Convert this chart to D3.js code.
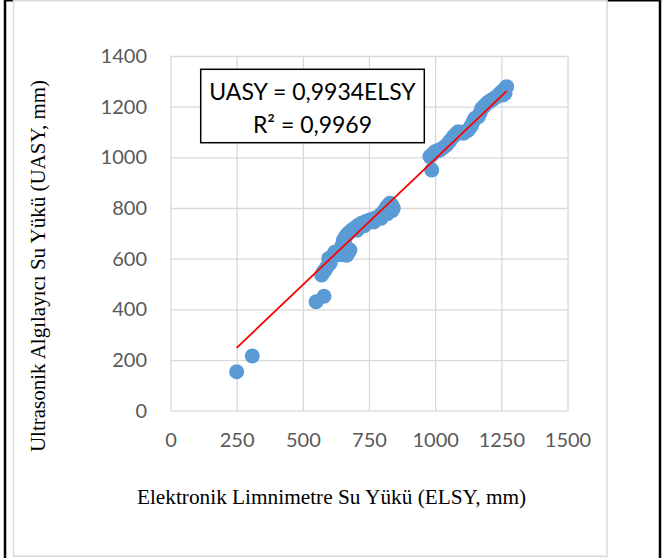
<!DOCTYPE html>
<html>
<head>
<meta charset="utf-8">
<script src="https://cdn.jsdelivr.net/npm/d3@7"></script>
<style>
  html, body { margin: 0; padding: 0; background: #fff; }
  svg { display: block; }
</style>
</head>
<body>
<svg id="chart" width="664" height="558"></svg>
<script>
// Elektronik limnimetre (ELSY) vs ultrasonik algılayıcı (UASY) su yükü ölçümleri, mm
const elsy = [
  250, 309, 550, 580,
  571, 578, 584, 590, 596, 603, 598, 606, 615, 628, 640, 652, 666, 672, 678,
  620, 640, 662, 660, 648, 655, 653, 660, 666, 675, 685, 697, 710, 722, 735,
  748, 760, 772, 785, 795, 804, 812, 817, 823, 829, 836, 842, 838, 826,
  705, 732, 768, 796, 820,
  987, 980, 990, 999, 1008, 1018, 1030, 1043, 1055, 1068, 1078, 1087, 1097,
  1106, 1116, 1125, 1132, 1138, 1144, 1150, 1163, 1170, 1176, 1186, 1195,
  1204, 1213, 1222, 1232, 1242, 1251, 1260, 1270, 1264, 1256
];
const uasy = [
  154, 216, 430, 452,
  536, 548, 556, 566, 575, 582, 601, 604, 612, 615, 617, 616, 614, 624, 634,
  625, 630, 650, 640, 652, 664, 674, 684, 694, 703, 713, 722, 733, 740, 746,
  751, 755, 760, 766, 774, 785, 795, 805, 812, 819, 812, 800, 790, 792,
  712, 730, 745, 760, 778,
  950, 1003, 1012, 1022, 1026, 1029, 1038, 1049, 1064, 1081, 1092, 1101, 1098,
  1095, 1102, 1108, 1118, 1128, 1142, 1154, 1160, 1176, 1193, 1203, 1213,
  1220, 1226, 1232, 1239, 1250, 1259, 1268, 1279, 1253, 1246
];
const xTicks = [0, 250, 500, 750, 1000, 1250, 1500];
const yTicks = [0, 200, 400, 600, 800, 1000, 1200, 1400];
const slope = 0.9934;
const rSquared = "0,9969";
const xTitle = "Elektronik Limnimetre Su Yükü (ELSY, mm)";
const yTitle = "Ultrasonik Algılayıcı Su Yükü (UASY, mm)";

const svg = d3.select("#chart");

// table cell borders around the chart
svg.append("line").attr("x1", 5).attr("x2", 5).attr("y1", 0).attr("y2", 558)
  .attr("stroke", "#000").attr("stroke-width", 2.5);
svg.append("line").attr("x1", 660).attr("x2", 660).attr("y1", 0).attr("y2", 558)
  .attr("stroke", "#000").attr("stroke-width", 2.5);
svg.append("line").attr("x1", 4).attr("x2", 661).attr("y1", 0.75).attr("y2", 0.75)
  .attr("stroke", "#000").attr("stroke-width", 1.5);

// chart area
svg.append("rect").attr("x", 13.5).attr("y", 0.75).attr("width", 593.5).attr("height", 555.5)
  .attr("fill", "#fff").attr("stroke", "#d9d9d9").attr("stroke-width", 1.5);

const x = d3.scaleLinear().domain([0, 1500]).range([170.5, 567.5]);
const y = d3.scaleLinear().domain([0, 1400]).range([410.7, 56]);
const plotW = x.range()[1] - x.range()[0];
const plotH = y.range()[0] - y.range()[1];

// gridlines
const gridColor = "#d9d9d9";
svg.append("g").attr("transform", `translate(${x.range()[0]},0)`)
  .call(d3.axisLeft(y).tickValues(yTicks).tickSize(-plotW).tickFormat(""))
  .call(g => g.select(".domain").remove())
  .call(g => g.selectAll("line").attr("stroke", gridColor).attr("stroke-width", 1.3));
svg.append("g").attr("transform", `translate(0,${y.range()[0]})`)
  .call(d3.axisBottom(x).tickValues(xTicks).tickSize(-plotH).tickFormat(""))
  .call(g => g.select(".domain").remove())
  .call(g => g.selectAll("line").attr("stroke", gridColor).attr("stroke-width", 1.3));

// tick labels
const tickFont = "Lato, 'Open Sans', sans-serif";
svg.append("g").attr("transform", `translate(0,${y.range()[0]})`)
  .call(d3.axisBottom(x).tickValues(xTicks).tickSize(0).tickPadding(22).tickFormat(d3.format("d")))
  .call(g => g.select(".domain").remove())
  .call(g => g.selectAll("text").attr("fill", "#595959").style("font-family", tickFont).style("font-size", "20px"));
svg.append("g").attr("transform", `translate(${x.range()[0]},0)`)
  .call(d3.axisLeft(y).tickValues(yTicks).tickSize(0).tickPadding(23.5).tickFormat(d3.format("d")))
  .call(g => g.select(".domain").remove())
  .call(g => g.selectAll("text").attr("fill", "#595959").style("font-family", tickFont).style("font-size", "20px"));

// data points
svg.append("g").selectAll("circle")
  .data(d3.range(elsy.length))
  .join("circle")
  .attr("cx", i => x(elsy[i]))
  .attr("cy", i => y(uasy[i]))
  .attr("r", 7.5)
  .attr("fill", "#5b9bd5");

// linear trendline through the origin
const [xMin, xMax] = d3.extent(elsy);
svg.append("line")
  .attr("x1", x(xMin)).attr("y1", y(slope * xMin))
  .attr("x2", x(xMax)).attr("y2", y(slope * xMax))
  .attr("stroke", "#ff0000").attr("stroke-width", 1.8);

// equation label
const eq = svg.append("g");
eq.append("rect").attr("x", 200.7).attr("y", 69.3).attr("width", 223.6).attr("height", 73.4)
  .attr("fill", "#fff").attr("stroke", "#000").attr("stroke-width", 1.5);
const eqText = eq.append("text").attr("text-anchor", "middle")
  .style("font-family", tickFont).style("font-size", "23px").attr("fill", "#000");
eqText.append("tspan").attr("x", 312.5).attr("y", 100)
  .text(`UASY = ${String(slope).replace(".", ",")}ELSY`);
eqText.append("tspan").attr("x", 312.5).attr("y", 132.5)
  .text(`R² = ${rSquared}`);

// axis titles
const titleFont = "'Liberation Serif', 'Times New Roman', serif";
svg.append("text").attr("x", 331.5).attr("y", 504).attr("text-anchor", "middle")
  .style("font-family", titleFont).style("font-size", "21.3px").attr("fill", "#000")
  .text(xTitle);
svg.append("text").attr("transform", "translate(45,266) rotate(-90)").attr("text-anchor", "middle")
  .style("font-family", titleFont).style("font-size", "21px").attr("fill", "#000")
  .text(yTitle);
</script>
</body>
</html>
